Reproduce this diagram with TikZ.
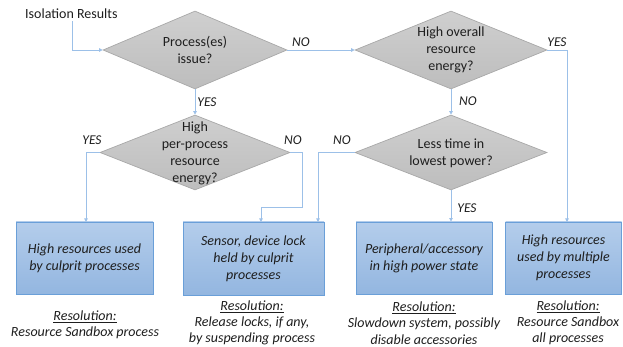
\documentclass[tikz,border=0pt]{standalone}
\usepackage{fontspec}
\setmainfont{Carlito}
\usetikzlibrary{arrows.meta,shapes.geometric}
\definecolor{boxtop}{HTML}{B4CDEB}
\definecolor{boxbot}{HTML}{93B6E0}
\definecolor{boxline}{HTML}{6A9FD8}
\definecolor{wire}{HTML}{9CC0E8}
\definecolor{diatop}{HTML}{CFCFCF}
\definecolor{diabot}{HTML}{BDBDBD}
\definecolor{dialine}{HTML}{A8A8A8}
\definecolor{ink}{HTML}{1E1E1E}
\tikzset{
  dia/.style={diamond, draw=dialine, line width=0.7pt, top color=diatop, bottom color=diabot, inner sep=0pt, minimum width=#1},
  dtext/.style={align=center, font=\fontsize{14}{17}\selectfont, text=ink, inner sep=0pt},
  resbox/.style={draw=boxline, line width=0.9pt, top color=boxtop, bottom color=boxbot, align=center, font=\fontsize{14}{17}\selectfont\itshape, text=ink, inner sep=0pt},
  lbl/.style={font=\fontsize{13.5}{15}\selectfont\itshape, text=ink, inner sep=0pt},
  res/.style={align=center, font=\fontsize{14}{16.2}\selectfont\itshape, text=ink, inner sep=0pt},
  wirel/.style={draw=wire, line width=0.8pt, -{Triangle[length=3.5pt,width=3.5pt]}},
}
\begin{document}
\begin{tikzpicture}[x=1pt,y=-1pt]
\useasboundingbox (0,0) rectangle (623,347);
% diamonds
\node[dia=184pt, minimum height=78pt] (d1) at (195,50) {};
\node[dtext] at (195,50) {Process(es)\\issue?};
\node[dia=192pt, minimum height=78pt] (d2) at (451,50) {};
\node[dtext] at (451,50) {High overall\\resource\\energy?};
\node[dia=190pt, minimum height=75pt] (d3) at (195,152.5) {};
\node[dtext] at (195,153) {High\\per-process\\resource\\energy?};
\node[dia=192pt, minimum height=75pt] (d4) at (451,152.5) {};
\node[dtext] at (451,153) {Less time in\\lowest power?};
% boxes
\node[resbox, minimum width=137pt, minimum height=72pt] (b1) at (84.5,258) {High resources used\\by culprit processes};
\node[resbox, minimum width=141pt, minimum height=73pt] (b2) at (253.5,258.5) {Sensor, device lock\\held by culprit\\processes};
\node[resbox, minimum width=136pt, minimum height=72pt] (b3) at (424,258) {Peripheral/accessory\\in high power state};
\node[resbox, minimum width=116pt, minimum height=72pt] (b4) at (563.5,258) {High resources\\used by multiple\\processes};
% resolutions
\node[res] (r1) at (85,325) {\underline{Resolution:}\\Resource Sandbox process};
\node[res] (r2) at (252,323) {\underline{Resolution:}\\Release locks, if any,\\by suspending process};
\node[res] (r3) at (424,323) {\underline{Resolution:}\\Slowdown system, possibly\\disable accessories};
\node[res] (r4) at (568,323) {\underline{Resolution:}\\Resource Sandbox\\all processes};
% start
\node[font=\fontsize{14}{16}\selectfont, text=ink, inner sep=0pt, anchor=west] (start) at (25,14) {Isolation Results};
\coordinate (s0) at (72,21);
% connectors
\draw[wirel] (s0) |- (d1.west);
\draw[wirel] (d1.east) -- (d2.west);
\draw[wirel] (d1.south) -- (d3.north);
\draw[wirel] (d2.south) -- (d4.north);
\draw[wirel] (d2.east) -- (567,50) -- (567,222);
\draw[wirel] (d3.west) -- (86,152.5) -- (86,222);
\draw[wirel] (d3.east) -- (302,152.5) -- (302,207) -- (261,207) -- (261,222);
\draw[wirel] (d4.west) -- (318,152.5) -- (318,222);
\draw[wirel] (d4.south) -- (d4.south |- b3.north);
% labels
\node[lbl] at (301,42) {NO};
\node[lbl] at (557,42) {YES};
\node[lbl] at (207,102) {YES};
\node[lbl] at (468,101) {NO};
\node[lbl] at (92,140) {YES};
\node[lbl] at (293,140) {NO};
\node[lbl] at (342,140) {NO};
\node[lbl] at (467,208) {YES};
\end{tikzpicture}
\end{document}
